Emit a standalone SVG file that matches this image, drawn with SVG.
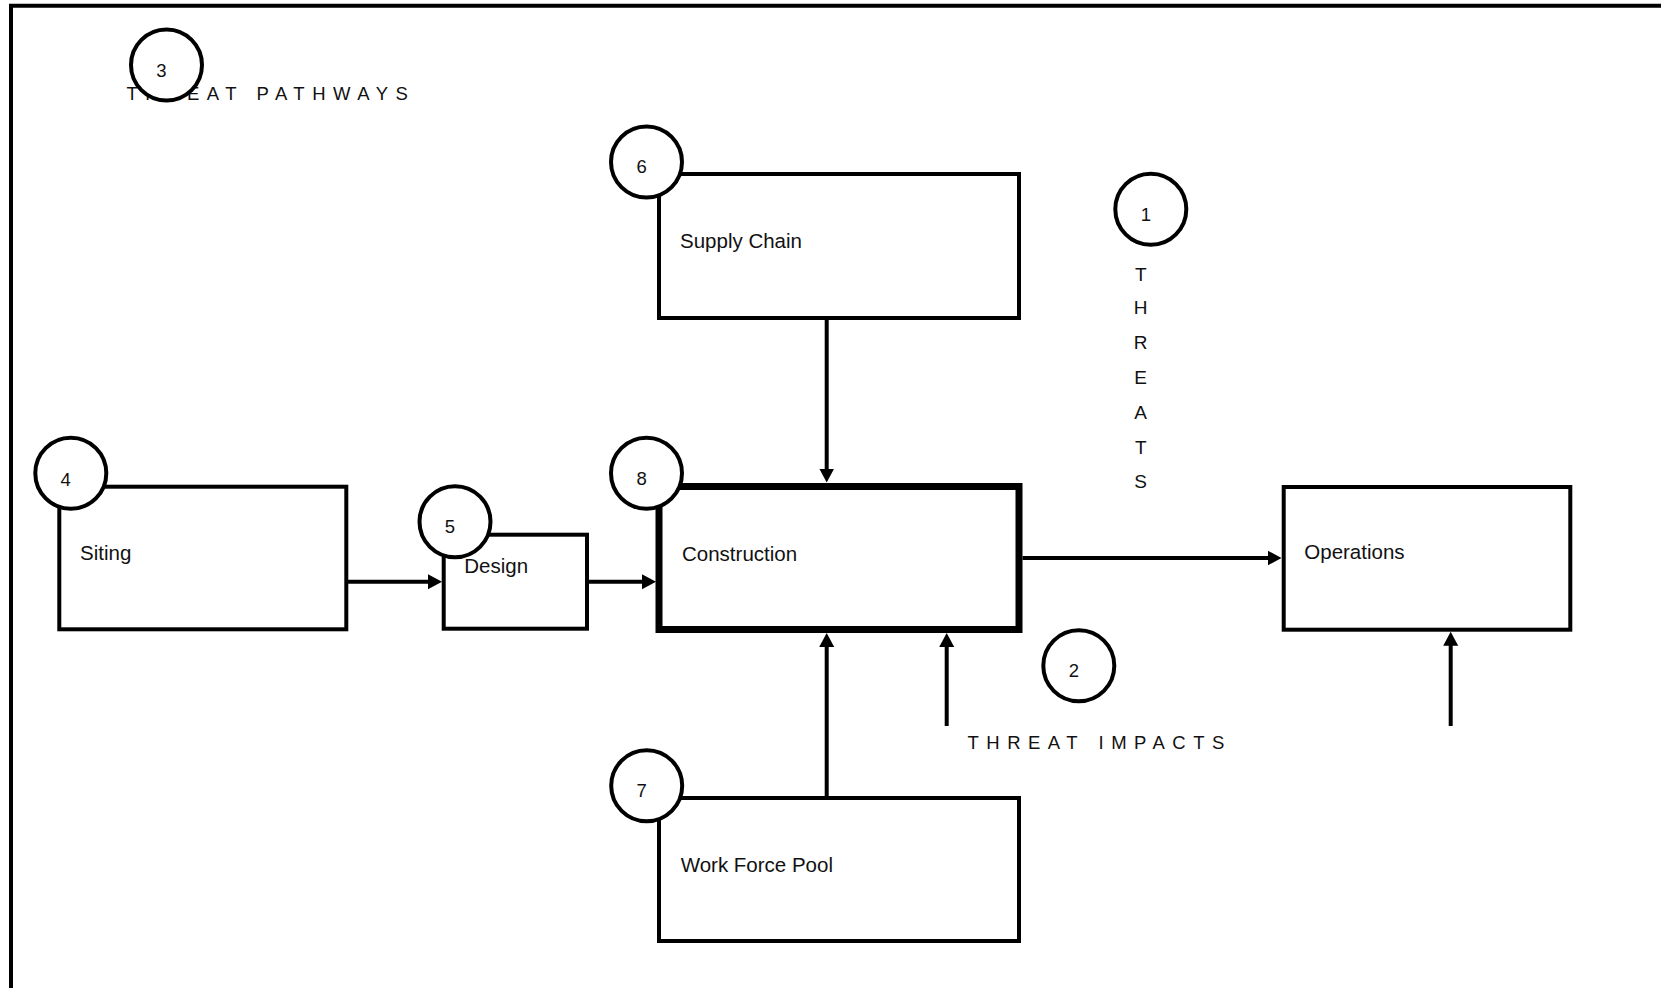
<svg xmlns="http://www.w3.org/2000/svg" width="1661" height="988" viewBox="0 0 1661 988">
  <style>
    .box { fill: #fff; stroke: #000; stroke-width: 4; }
    .box-main { fill: #fff; stroke: #000; stroke-width: 7; }
    .badge { fill: #fff; stroke: #000; stroke-width: 4; }
    .label { font-family: "Liberation Sans", Arial, sans-serif; font-size: 20.5px; fill: #111; }
    .num { font-family: "Liberation Sans", Arial, sans-serif; font-size: 18.5px; fill: #111; text-anchor: middle; }
    .caption { font-family: "Liberation Sans", Arial, sans-serif; font-size: 18.5px; fill: #111; letter-spacing: 7.5px; }
    .vcap { font-family: "Liberation Sans", Arial, sans-serif; font-size: 19px; fill: #111; text-anchor: middle; }
    .wire { fill: none; stroke: #000; stroke-width: 4; }
  </style>
  <defs>
    <marker id="arrow" markerUnits="userSpaceOnUse" markerWidth="14" markerHeight="16" refX="4" refY="8" orient="auto">
      <path d="M0,0.5 L14,8 L0,15.5 z" fill="#000"/>
    </marker>
  </defs>

  <rect width="1661" height="988" fill="#fff"/>

  <!-- page frame (open on the right and bottom) -->
  <path d="M11,988 V5.75 H1661" fill="none" stroke="#000" stroke-width="4"/>

  <!-- heading: threat pathways, partly covered by its badge -->
  <g id="threat-pathways">
    <text class="caption" x="126.5" y="100">THREAT PATHWAYS</text>
    <circle class="badge" cx="166.5" cy="65" r="35.5"/>
    <text class="num" x="161.5" y="76.5">3</text>
  </g>

  <!-- vertical heading: threats -->
  <g id="threats">
    <circle class="badge" cx="1150.8" cy="209.3" r="35.5"/>
    <text class="num" x="1146" y="220.5">1</text>
    <text class="vcap" x="1140.7" y="280.7">T</text>
    <text class="vcap" x="1140.7" y="314">H</text>
    <text class="vcap" x="1140.7" y="349">R</text>
    <text class="vcap" x="1140.7" y="384">E</text>
    <text class="vcap" x="1140.7" y="419">A</text>
    <text class="vcap" x="1140.7" y="454">T</text>
    <text class="vcap" x="1140.7" y="488.3">S</text>
  </g>

  <!-- heading: threat impacts -->
  <g id="threat-impacts">
    <circle class="badge" cx="1078.8" cy="665.8" r="35.5"/>
    <text class="num" x="1074" y="676.5">2</text>
    <text class="caption" x="967.5" y="749">THREAT</text>
    <text class="caption" x="1098.5" y="749">IMPACTS</text>
  </g>

  <!-- connectors -->
  <g id="connectors">
    <line class="wire" x1="348" y1="581.7" x2="432" y2="581.7" marker-end="url(#arrow)"/>
    <line class="wire" x1="589" y1="581.7" x2="646" y2="581.7" marker-end="url(#arrow)"/>
    <line class="wire" x1="826.7" y1="320" x2="826.7" y2="472.5" marker-end="url(#arrow)"/>
    <line class="wire" x1="826.7" y1="797" x2="826.7" y2="643" marker-end="url(#arrow)"/>
    <line class="wire" x1="946.7" y1="726" x2="946.7" y2="643" marker-end="url(#arrow)"/>
    <line class="wire" x1="1022.5" y1="558" x2="1271.5" y2="558" marker-end="url(#arrow)"/>
    <line class="wire" x1="1450.7" y1="726" x2="1450.7" y2="641.7" marker-end="url(#arrow)"/>
  </g>

  <g id="siting">
    <rect class="box" x="59.3" y="486.7" width="287" height="142.6"/>
    <circle class="badge" cx="70.8" cy="473.3" r="35.5"/>
    <text class="num" x="65.7" y="485.5">4</text>
    <text class="label" x="80" y="560">Siting</text>
  </g>

  <g id="design">
    <rect class="box" x="443.7" y="534.7" width="143.3" height="94"/>
    <circle class="badge" cx="455" cy="521.8" r="35.5"/>
    <text class="num" x="450" y="533.2">5</text>
    <text class="label" x="464.3" y="573.3">Design</text>
  </g>

  <g id="supply-chain">
    <rect class="box" x="659" y="174" width="360" height="144"/>
    <circle class="badge" cx="646.5" cy="162" r="35.5"/>
    <text class="num" x="641.7" y="173.2">6</text>
    <text class="label" x="680" y="248">Supply Chain</text>
  </g>

  <g id="construction">
    <rect class="box-main" x="659" y="486.5" width="360" height="143"/>
    <circle class="badge" cx="646.5" cy="473.2" r="35.5"/>
    <text class="num" x="641.7" y="484.5">8</text>
    <text class="label" x="682" y="561">Construction</text>
  </g>

  <g id="work-force-pool">
    <rect class="box" x="659" y="798" width="360" height="143"/>
    <circle class="badge" cx="646.7" cy="785.8" r="35.5"/>
    <text class="num" x="641.7" y="797.2">7</text>
    <text class="label" x="680.7" y="871.7">Work Force Pool</text>
  </g>

  <g id="operations">
    <rect class="box" x="1283.7" y="487" width="286.6" height="142.7"/>
    <text class="label" x="1304.3" y="559.3">Operations</text>
  </g>
</svg>
